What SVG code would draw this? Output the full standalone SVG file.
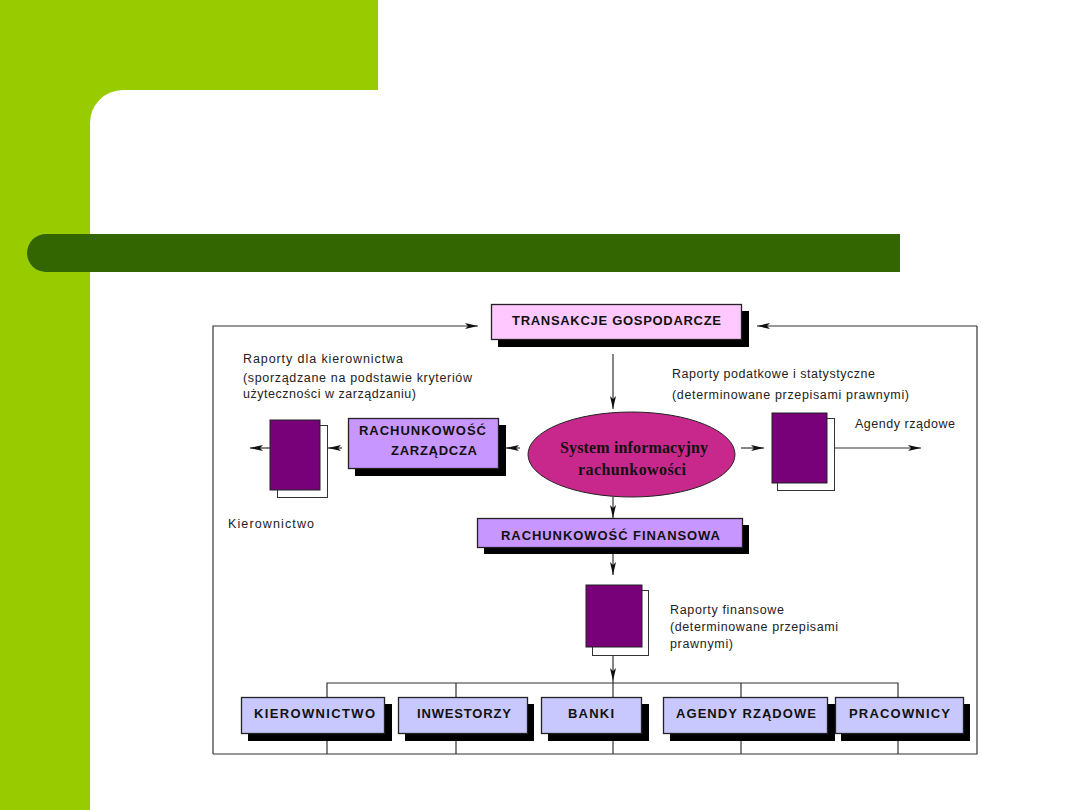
<svg xmlns="http://www.w3.org/2000/svg" width="1080" height="810" viewBox="0 0 1080 810">
<style>
.ln{fill:none;stroke:#333;stroke-width:1.2}
.bx{stroke:#222;stroke-width:1.3}
.sh{fill:#000}
.doc{fill:#780078;stroke:#222;stroke-width:1}
.docb{fill:#fff;stroke:#333;stroke-width:1}
.t{font-family:"Liberation Sans",Arial,sans-serif;font-weight:bold;fill:#111;font-size:13px}
.s{font-family:"Liberation Sans",Arial,sans-serif;fill:#222;font-size:12.5px}
.e{font-family:"Liberation Serif","Times New Roman",serif;font-weight:bold;fill:#111;font-size:16px}
</style>
<defs>
<marker id="a" markerUnits="userSpaceOnUse" markerWidth="14" markerHeight="10" refX="13" refY="5" orient="auto"><path d="M0 2L13 5L0 8L3 5Z" fill="#111"/></marker>
</defs>
<rect width="1080" height="810" fill="#fff"/>
<g id="background">
<path d="M0 0H378V90H123A33 33 0 0 0 90 123V810H0Z" fill="#99cc00"/>
<path d="M46 234H900V272H46A19 19 0 0 1 46 234Z" fill="#336600"/>
</g>
<g id="connectors">
<path class="ln" d="M213 754V326H478" marker-end="url(#a)"/>
<path class="ln" d="M977 326V754H213"/>
<path class="ln" d="M977 326H757" marker-end="url(#a)"/>
<path class="ln" d="M613 354V409" marker-end="url(#a)"/>
<path class="ln" d="M270 448H250" marker-end="url(#a)"/>
<path class="ln" d="M342 448H328" marker-end="url(#a)"/>
<path class="ln" d="M520 448H506" marker-end="url(#a)"/>
<path class="ln" d="M741 448H764" marker-end="url(#a)"/>
<path class="ln" d="M834 448H921" marker-end="url(#a)"/>
<path class="ln" d="M613 497V518" marker-end="url(#a)"/>
<path class="ln" d="M613 554V575" marker-end="url(#a)"/>
<path class="ln" d="M613 655V681" marker-end="url(#a)"/>
<path class="ln" d="M327 697V683H898V697"/>
<path class="ln" d="M456 683V697M613 681V697M741 683V697"/>
<path class="ln" d="M327 741V754M456 741V754M613 741V754M741 741V754M898 741V754"/>
</g>
<g id="transakcje"><rect class="sh" x="498" y="311" width="251" height="36"/><rect class="bx" x="491.500" y="304.500" width="250" height="35" fill="#ffc8ff"/><text class="t" x="512" y="325" textLength="209">TRANSAKCJE GOSPODARCZE</text></g>
<g id="zarzadcza"><rect class="sh" x="355" y="425" width="151" height="51"/><rect class="bx" x="348.500" y="418.500" width="150" height="50" fill="#c896ff"/><text class="t" x="359" y="435" textLength="127">RACHUNKOWOŚĆ</text><text class="t" x="391" y="455" textLength="86">ZARZĄDCZA</text></g>
<g id="system"><ellipse cx="631.500" cy="454.500" rx="103.500" ry="42.500" fill="#c8288c" stroke="#222"/><text class="e" x="560" y="453" textLength="148">System informacyjny</text><text class="e" x="578" y="475" textLength="108">rachunkowości</text></g>
<g id="finansowa"><rect class="sh" x="484" y="525" width="265" height="29"/><rect class="bx" x="477.500" y="518.500" width="265" height="29" fill="#c896ff"/><text class="t" x="501" y="540" textLength="219">RACHUNKOWOŚĆ FINANSOWA</text></g>
<g id="doc-left"><rect class="docb" x="277.500" y="425.500" width="50" height="72"/><rect class="doc" x="270" y="420" width="50" height="70"/></g>
<g id="doc-right"><rect class="docb" x="777.500" y="418.500" width="57" height="72"/><rect class="doc" x="772" y="413" width="55" height="70"/></g>
<g id="doc-bottom"><rect class="docb" x="592.500" y="590.500" width="56" height="65"/><rect class="doc" x="586" y="585" width="56" height="62"/></g>
<g id="kierownictwo"><rect class="sh" x="248" y="704" width="144" height="37"/><rect class="bx" x="241.500" y="697.500" width="143" height="36" fill="#c8c8ff"/><text class="t" x="254" y="718" textLength="121">KIEROWNICTWO</text></g>
<g id="inwestorzy"><rect class="sh" x="405" y="704" width="129" height="37"/><rect class="bx" x="398.500" y="697.500" width="129" height="36" fill="#c8c8ff"/><text class="t" x="417" y="718" textLength="94">INWESTORZY</text></g>
<g id="banki"><rect class="sh" x="548" y="704" width="101" height="37"/><rect class="bx" x="541.500" y="697.500" width="100" height="36" fill="#c8c8ff"/><text class="t" x="568" y="718" textLength="46">BANKI</text></g>
<g id="agendy"><rect class="sh" x="670" y="704" width="165" height="37"/><rect class="bx" x="663.500" y="697.500" width="164" height="36" fill="#c8c8ff"/><text class="t" x="676" y="718" textLength="140">AGENDY RZĄDOWE</text></g>
<g id="pracownicy"><rect class="sh" x="841" y="704" width="129" height="37"/><rect class="bx" x="835.500" y="697.500" width="128" height="36" fill="#c8c8ff"/><text class="t" x="849" y="718" textLength="101">PRACOWNICY</text></g>
<g id="labels">
<text class="s" x="243" y="363" textLength="160">Raporty dla kierownictwa</text>
<text class="s" x="243" y="382" textLength="229">(sporządzane na podstawie kryteriów</text>
<text class="s" x="243" y="398" textLength="173">użyteczności w zarządzaniu)</text>
<text class="s" x="228" y="528" textLength="86">Kierownictwo</text>
<text class="s" x="672" y="378" textLength="203">Raporty podatkowe i statystyczne</text>
<text class="s" x="672" y="399" textLength="237">(determinowane przepisami prawnymi)</text>
<text class="s" x="855" y="428" textLength="100">Agendy rządowe</text>
<text class="s" x="670" y="614" textLength="114">Raporty finansowe</text>
<text class="s" x="670" y="631" textLength="168">(determinowane przepisami</text>
<text class="s" x="670" y="648" textLength="63">prawnymi)</text>
</g>
</svg>
